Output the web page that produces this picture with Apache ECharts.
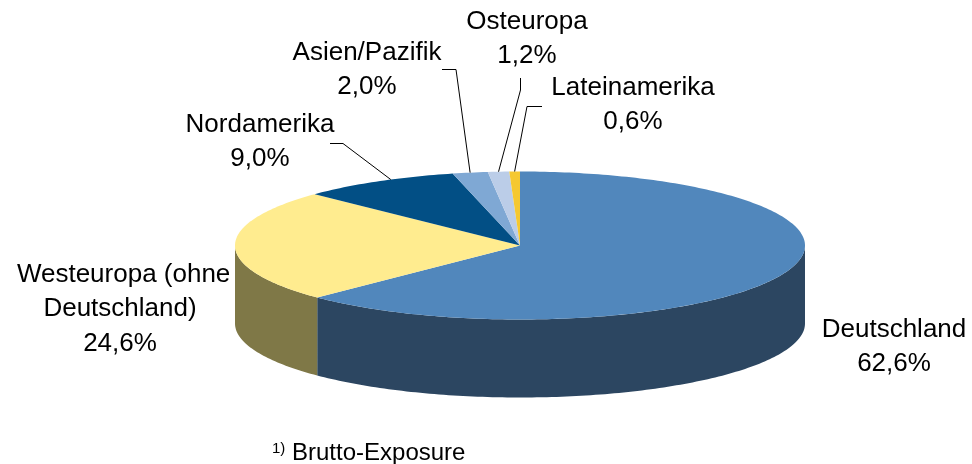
<!DOCTYPE html>
<html lang="de">
<head>
    <meta charset="UTF-8">
    <title>Brutto-Exposure nach Regionen</title>
    <script src="https://cdn.jsdelivr.net/npm/echarts@6/dist/echarts.min.js"></script>
    <style>
        html, body {
            margin: 0;
            background: #ffffff;
        }

        #chart {
            width: 972px;
            height: 464px;
        }
    </style>
</head>
<body>
<div id="chart"></div>
<script>
    const regions = ['Deutschland', ' Westeuropa (ohne\nDeutschland)', 'Nordamerika', 'Asien/Pazifik', 'Osteuropa', 'Lateinamerika'];
    const shares = [62.6, 24.6, 9.0, 2.0, 1.2, 0.6];
    const footnote = 'Brutto-Exposure';

    const topColors = ['#5187bc', '#ffec8f', '#024f85', '#7fa8d4', '#bbcde8', '#f5c830'];
    const wallColors = ['#2c4661', '#7f7847', '#012a47', '#445a72', '#64707f', '#84701f'];

    // ellipse of the tilted pie
    const cx = 520, cy = 245.5, rx = 285, ry = 74, depth = 78;

    // label centre, leader elbow and where along the slice the leader lands
    const labelPos = [[894, 347], [120, 309], [260, 142], [367, 70], [527, 39], [633, 105]];
    const leaderStart = [null, null, [[330, 143.5], [343, 143.5]], [[442, 69.5], [456, 69.5]], [[520.5, 78], [520.5, 90]], [[542, 106.5], [527, 106.5]]];
    const leaderAt = [0.5, 0.5, 0.59, 0.5, 0.5, 0.5];

    const total = shares.reduce((a, b) => a + b, 0);

    // degrees clockwise from 12 o'clock
    function rim(deg, dy) {
        const r = deg * Math.PI / 180;
        return [cx + rx * Math.sin(r), cy - ry * Math.cos(r) + (dy || 0)];
    }

    function arc(from, to, dy) {
        const pts = [];
        const n = Math.max(2, Math.ceil(to - from));
        for (let i = 0; i <= n; i++) {
            pts.push(rim(from + (to - from) * i / n, dy));
        }
        return pts;
    }

    function renderSlice(params, api) {
        const i = params.dataIndex;
        const before = shares.slice(0, i).reduce((a, b) => a + b, 0);
        const start = before / total * 360;
        const end = start + api.value(0) / total * 360;
        const children = [];

        // only the front half of the side wall can be seen
        const wallFrom = Math.max(start, 90);
        const wallTo = Math.min(end, 270);
        if (wallTo > wallFrom) {
            const upper = arc(wallFrom, wallTo, 0);
            const lower = arc(wallFrom, wallTo, depth).reverse();
            children.push({
                type: 'polygon',
                shape: {points: upper.concat(lower)},
                style: {fill: wallColors[i]}
            });
        }

        children.push({
            type: 'polygon',
            shape: {points: [[cx, cy]].concat(arc(start, end, 0))},
            style: {fill: topColors[i]}
        });

        if (leaderStart[i]) {
            const landing = rim(start + (end - start) * leaderAt[i], 0);
            children.push({
                type: 'polyline',
                shape: {points: leaderStart[i].concat([landing])},
                style: {fill: 'none', stroke: '#000000', lineWidth: 1},
                z2: 5
            });
        }

        const pct = api.value(0).toFixed(1).replace('.', ',') + '%';
        children.push({
            type: 'text',
            x: labelPos[i][0],
            y: labelPos[i][1],
            z2: 10,
            style: {
                text: regions[i] + '\n' + pct,
                fill: '#000000',
                font: '26px "Liberation Sans", Arial, sans-serif',
                lineHeight: 34.5,
                align: 'center',
                verticalAlign: 'middle'
            }
        });

        return {type: 'group', children: children};
    }

    const chart = echarts.init(document.getElementById('chart'), null, {renderer: 'canvas'});
    chart.setOption({
        animation: false,
        backgroundColor: '#ffffff',
        graphic: [{
            type: 'text',
            left: 272,
            top: 441,
            style: {
                text: '{s|1)} ' + footnote,
                font: '24px "Liberation Sans", Arial, sans-serif',
                fill: '#000000',
                rich: {
                    s: {
                        font: '15px "Liberation Sans", Arial, sans-serif',
                        fill: '#000000',
                        verticalAlign: 'top',
                        padding: [0, 0, 8, 0]
                    }
                }
            }
        }],
        series: [{
            type: 'custom',
            coordinateSystem: 'none',
            silent: true,
            data: shares.map(v => [v]),
            renderItem: renderSlice
        }]
    });
</script>
</body>
</html>
